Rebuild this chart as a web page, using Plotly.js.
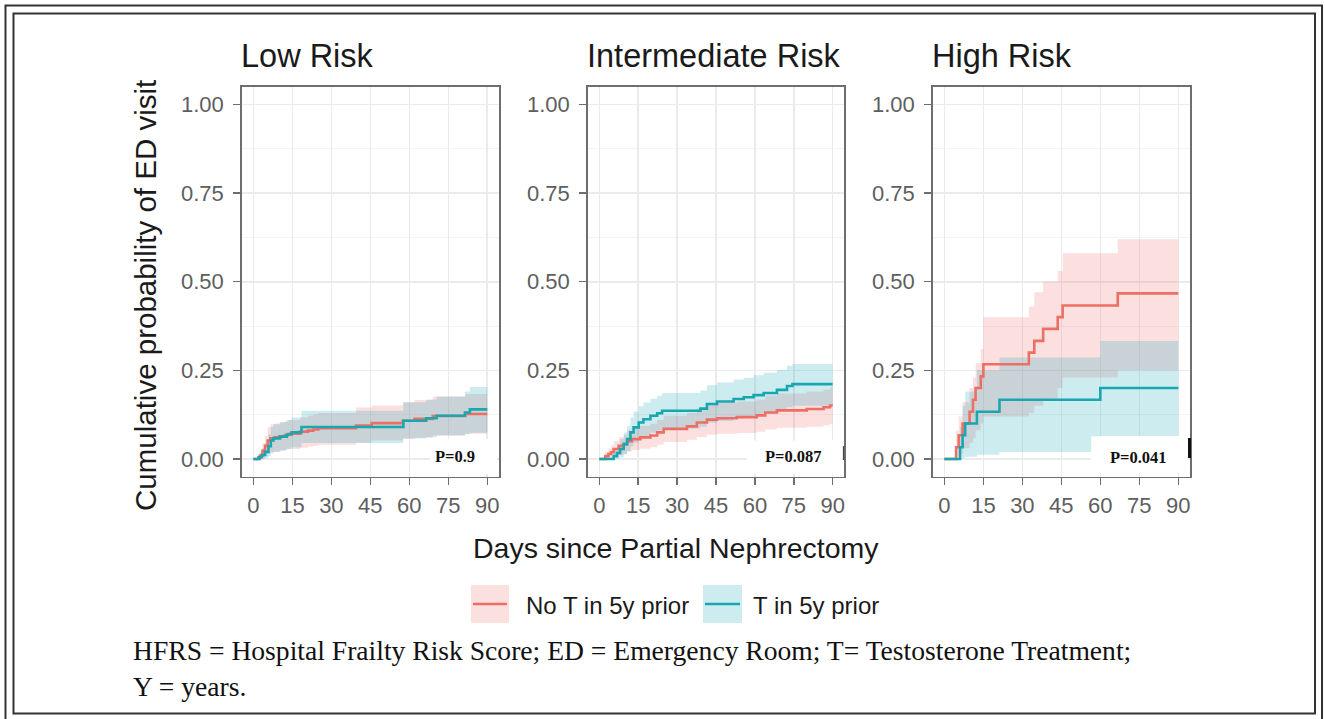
<!DOCTYPE html>
<html><head><meta charset="utf-8">
<script src="https://cdn.plot.ly/plotly-3.0.1.min.js"></script>
<style>html,body{margin:0;padding:0;background:#fff}#chart{width:1325px;height:719px}</style>
</head><body><div id="chart"></div>
<script>
// ---------- DATA ----------
const panelTitles = ["Low Risk", "Intermediate Risk", "High Risk"];
const groupNames = ["No T in 5y prior", "T in 5y prior"];
const pValues = ["P=0.9", "P=0.087", "P=0.041"];
const xTicks = [0, 15, 30, 45, 60, 75, 90];
const yTicks = [0, 0.25, 0.5, 0.75, 1.0];

// Low risk - No T
const lowNoT_t   = [0, 2.5, 3.5, 4.5, 5.5, 6.5, 8, 10, 12, 13.5, 18, 21, 23, 25, 39.5, 45.5, 57.5, 62, 69, 81.5, 90];
const lowNoT_est = [0, .009, .023, .037, .052, .058, .061, .064, .067, .071, .077, .080, .083, .087, .094, .101, .108, .113, .121, .127, .127];
const lowNoT_lo  = [0, 0, .003, .008, .015, .019, .021, .023, .026, .028, .032, .035, .037, .040, .046, .052, .056, .060, .066, .071, .071];
const lowNoT_hi  = [0, .02, .045, .065, .09, .098, .1, .103, .106, .11, .118, .122, .126, .13, .145, .151, .16, .166, .176, .183, .183];
// Low risk - T
const lowT_t   = [0, 2, 3.2, 4.5, 5.8, 6.7, 7.7, 10.3, 12.8, 14.7, 18.5, 57.7, 66.5, 70.5, 81.4, 83.3, 90];
const lowT_est = [0, .005, .011, .02, .036, .052, .058, .063, .069, .075, .09, .108, .115, .122, .131, .14, .14];
const lowT_lo  = [0, 0, 0, .002, .008, .016, .02, .024, .029, .033, .045, .058, .062, .066, .07, .074, .074];
const lowT_hi  = [0, .015, .03, .045, .07, .09, .098, .104, .11, .117, .136, .16, .168, .176, .19, .203, .203];

// Intermediate risk - No T
const midNoT_t   = [0, 2.3, 3.5, 4.5, 5.5, 7.5, 9.4, 10.7, 12.6, 15.8, 19.7, 22.3, 24.8, 33.8, 37.6, 41.5, 45.4, 53, 60.7, 64, 68.5, 80, 86.5, 89, 90];
const midNoT_est = [0, .008, .014, .019, .028, .037, .042, .05, .056, .061, .066, .075, .085, .092, .103, .111, .115, .118, .123, .131, .137, .141, .146, .151, .151];
const midNoT_lo  = [0, 0, .001, .003, .007, .012, .015, .021, .025, .029, .033, .04, .048, .054, .062, .068, .071, .073, .077, .083, .088, .091, .095, .099, .099];
const midNoT_hi  = [0, .02, .03, .038, .05, .062, .068, .08, .087, .093, .099, .11, .122, .13, .144, .153, .158, .162, .168, .178, .185, .19, .196, .202, .202];
// Intermediate risk - T
const midT_t   = [0, 5.5, 6.8, 8, 9.4, 10.7, 12, 13.2, 15.2, 17, 19.7, 22.3, 24.2, 39, 41.5, 45.4, 51.8, 55.7, 59.5, 63.4, 68.5, 72.4, 74.5, 90];
const midT_est = [0, .008, .017, .028, .042, .056, .075, .089, .103, .112, .122, .129, .136, .142, .155, .162, .169, .174, .18, .186, .195, .206, .211, .211];
const midT_lo  = [0, 0, .001, .005, .013, .022, .035, .046, .057, .065, .074, .08, .086, .091, .102, .108, .114, .118, .123, .128, .136, .146, .15, .15];
const midT_hi  = [0, .025, .04, .056, .075, .092, .116, .133, .149, .159, .17, .178, .186, .193, .208, .216, .224, .229, .236, .243, .252, .263, .268, .268];

// High risk - No T
const highNoT_t   = [0, 4.5, 5.5, 7, 9.7, 11, 12, 14, 15, 32.5, 34.6, 38, 43.6, 45.5, 66.7, 90];
const highNoT_est = [0, .033, .067, .1, .133, .167, .2, .233, .267, .3, .333, .367, .4, .433, .467, .467];
const highNoT_lo  = [0, .005, .015, .03, .045, .06, .08, .1, .12, .13, .15, .17, .2, .23, .25, .25];
const highNoT_hi  = [0, .08, .12, .16, .2, .23, .27, .31, .4, .43, .47, .5, .53, .58, .62, .62];
// High risk - T
const highT_t   = [0, 6, 7, 8, 12.5, 21.2, 60, 90];
const highT_est = [0, .033, .067, .1, .133, .167, .2, .2];
const highT_lo  = [0, 0, .002, .006, .012, .02, .065, .065];
const highT_hi  = [0, .09, .15, .19, .25, .286, .333, .333];

// ---------- STYLE ----------
const W = 1325, H = 719;
const px = v => v / W, py = v => 1 - v / H;
const redLine = "#EC6F66", tealLine = "#1AA6AF";
const redFill = "rgba(240,110,110,0.22)", tealFill = "rgba(40,175,192,0.24)";
const sans = "Liberation Sans, Arial, sans-serif";
const serif = "Liberation Serif, Times New Roman, serif";

const panels = [
  {noT: [lowNoT_t, lowNoT_est, lowNoT_lo, lowNoT_hi], T: [lowT_t, lowT_est, lowT_lo, lowT_hi]},
  {noT: [midNoT_t, midNoT_est, midNoT_lo, midNoT_hi], T: [midT_t, midT_est, midT_lo, midT_hi]},
  {noT: [highNoT_t, highNoT_est, highNoT_lo, highNoT_hi], T: [highT_t, highT_est, highT_lo, highT_hi]}
];
const domains = [[241.7, 499], [587.7, 844.3], [932.7, 1190]];
const yDom = [py(476.7), py(86.7)];

const traces = [];
panels.forEach((p, i) => {
  const xa = i === 0 ? "x" : "x" + (i + 1);
  const ya = i === 0 ? "y" : "y" + (i + 1);
  const base = {type: "scatter", mode: "lines", xaxis: xa, yaxis: ya, hoverinfo: "skip", showlegend: false};
  [[p.noT, redFill], [p.T, tealFill]].forEach(([g, fc]) => {
    traces.push(Object.assign({}, base, {x: g[0], y: g[2], line: {width: 0, shape: "hv"}}));
    traces.push(Object.assign({}, base, {x: g[0], y: g[3], line: {width: 0, shape: "hv"}, fill: "tonexty", fillcolor: fc}));
  });
  traces.push(Object.assign({}, base, {x: p.noT[0], y: p.noT[1], name: groupNames[0], line: {color: redLine, width: 2.6, shape: "hv"}}));
  traces.push(Object.assign({}, base, {x: p.T[0], y: p.T[1], name: groupNames[1], line: {color: tealLine, width: 2.6, shape: "hv"}}));
});

const layout = {
  width: W, height: H,
  margin: {l: 0, r: 0, t: 0, b: 0, pad: 0},
  paper_bgcolor: "#fff", plot_bgcolor: "#fff",
  showlegend: false,
  shapes: [], annotations: []
};
const boxes = [[68, 93.7, -0.042, 0.056], [57.1, 93.7, -0.042, 0.052], [56.5, 93.5, -0.04, 0.064]];
const pPos = [[77.4, 0.006], [74.9, 0.008], [74.7, 0.005]];

domains.forEach((d, i) => {
  const k = i === 0 ? "" : String(i + 1);
  layout["xaxis" + k] = {
    domain: [px(d[0]), px(d[1])], anchor: "y" + k, range: [-4.5, 94.5],
    tickvals: xTicks, ticktext: xTicks.map(String),
    showgrid: true, gridcolor: "#EBEBEB", gridwidth: 1.6, zeroline: false,
    showline: true, mirror: true, linecolor: "#6E6E6E", linewidth: 1.5,
    ticks: "outside", ticklen: 7, tickwidth: 1.5, tickcolor: "#6E6E6E",
    ticklabelstandoff: 1,
    tickfont: {family: sans, size: 22, color: "#5E5E5E"}, fixedrange: true
  };
  layout["yaxis" + k] = {
    domain: yDom, anchor: "x" + k, range: [-0.05, 1.05],
    tickvals: yTicks, ticktext: yTicks.map(v => v.toFixed(2)),
    showgrid: true, gridcolor: "#EBEBEB", gridwidth: 1.6, zeroline: false,
    minor: {tickvals: [0.125, 0.375, 0.625, 0.875], showgrid: true, gridcolor: "#F4F4F4", gridwidth: 1, ticks: ""},
    showline: true, mirror: true, linecolor: "#6E6E6E", linewidth: 1.5,
    ticks: "outside", ticklen: 7, tickwidth: 1.5, tickcolor: "#6E6E6E",
    ticklabelstandoff: 5,
    tickfont: {family: sans, size: 22, color: "#5E5E5E"}, fixedrange: true
  };
  // panel title
  layout.annotations.push({xref: "paper", yref: "paper", x: px(d[0] - 2.5), y: py(55.5), xanchor: "left", yanchor: "middle",
    text: panelTitles[i], showarrow: false, font: {family: sans, size: 32.5, color: "#1A1A1A"}});
  // white box behind p-value
  const b = boxes[i];
  layout.shapes.push({type: "rect", xref: "x" + k, yref: "y" + k, x0: b[0], x1: b[1], y0: b[2], y1: b[3],
    fillcolor: "#FFFFFF", line: {width: 0}, layer: "above"});
  layout.annotations.push({xref: "x" + k, yref: "y" + k, x: pPos[i][0], y: pPos[i][1], xanchor: "center", yanchor: "middle",
    text: "<b>" + pValues[i] + "</b>", showarrow: false, font: {family: serif, size: 16.5, color: "#111"}});
});

// axis titles
layout.annotations.push({xref: "paper", yref: "paper", x: px(145), y: py(296), textangle: -90, xanchor: "center", yanchor: "middle",
  text: "Cumulative probability of ED visit", showarrow: false, font: {family: sans, size: 29.5, color: "#1A1A1A"}});
layout.annotations.push({xref: "paper", yref: "paper", x: px(676), y: py(548), xanchor: "center", yanchor: "middle",
  text: "Days since Partial Nephrectomy", showarrow: false, font: {family: sans, size: 28.5, color: "#1A1A1A"}});

// legend (drawn manually)
const legendItems = [[471, 509, 524, redFill, redLine], [703, 742, 751, tealFill, tealLine]];
legendItems.forEach((it, j) => {
  layout.shapes.push({type: "rect", xref: "paper", yref: "paper", x0: px(it[0]), x1: px(it[1]), y0: py(623), y1: py(585),
    fillcolor: it[3], line: {width: 0}});
  layout.shapes.push({type: "line", xref: "paper", yref: "paper", x0: px(it[0] + 2), x1: px(it[1] - 2), y0: py(604), y1: py(604),
    line: {color: it[4], width: 2.6}});
  layout.annotations.push({xref: "paper", yref: "paper", x: px(it[2]), y: py(605), xanchor: "left", yanchor: "middle",
    text: groupNames[j], showarrow: false, font: {family: sans, size: 24, color: "#1A1A1A"}});
});

// caption
layout.annotations.push({xref: "paper", yref: "paper", x: px(131), y: py(650), xanchor: "left", yanchor: "middle",
  text: "HFRS = Hospital Frailty Risk Score; ED = Emergency Room; T= Testosterone Treatment;", showarrow: false,
  font: {family: serif, size: 27.6, color: "#111"}});
layout.annotations.push({xref: "paper", yref: "paper", x: px(131), y: py(686), xanchor: "left", yanchor: "middle",
  text: "Y = years.", showarrow: false, font: {family: serif, size: 27.6, color: "#111"}});

// double frame
layout.shapes.push({type: "rect", xref: "paper", yref: "paper", x0: px(5.5), x1: px(1322), y0: py(740), y1: py(5.5),
  line: {color: "#333", width: 2}, fillcolor: "rgba(0,0,0,0)"});
layout.shapes.push({type: "rect", xref: "paper", yref: "paper", x0: px(13.5), x1: px(1315), y0: py(713.5), y1: py(13.5),
  line: {color: "#333", width: 2}, fillcolor: "rgba(0,0,0,0)"});
// small scan marks at panel edges
layout.shapes.push({type: "line", xref: "paper", yref: "paper", x0: px(843.5), x1: px(843.5), y0: py(460), y1: py(446),
  line: {color: "#444", width: 1.2}});
layout.shapes.push({type: "line", xref: "paper", yref: "paper", x0: px(1189.5), x1: px(1189.5), y0: py(458), y1: py(438),
  line: {color: "#111", width: 3}});

Plotly.newPlot("chart", traces, layout, {staticPlot: true, displayModeBar: false});
</script></body></html>
